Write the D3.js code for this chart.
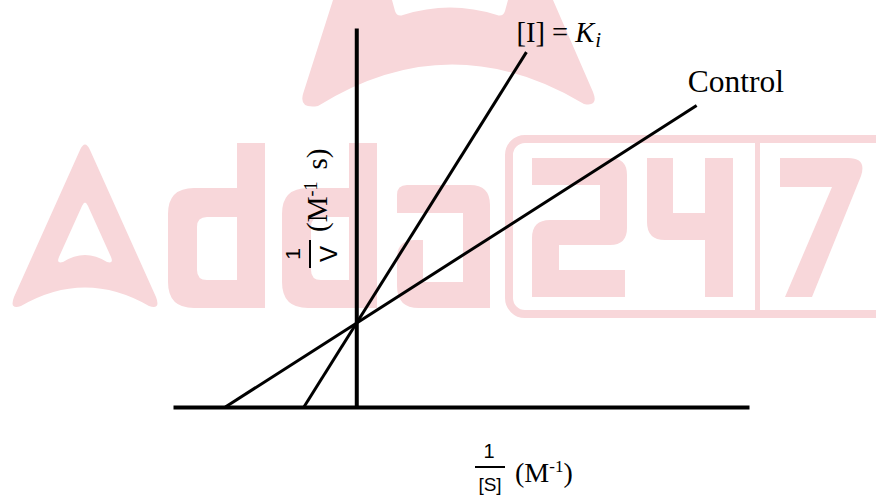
<!DOCTYPE html>
<html>
<head>
<meta charset="utf-8">
<script src="https://cdn.jsdelivr.net/npm/d3@7/dist/d3.min.js"></script>
<style>
  html, body { margin: 0; padding: 0; background: #fff; }
  svg { display: block; }
</style>
</head>
<body>
<svg id="chart" width="876" height="495"></svg>
<script>
// ---- data (Lineweaver–Burk plot, values in plot units) ----
const xExtent = [-1.4, 3.0];          // 1/[S] axis extent
const yExtent = [0, 4.4];             // 1/V axis extent
const seriesNames = ["Control", "[I] = Ki"];
const controlX = [-1.0, 2.6];
const controlY = [0.0, 3.5];
const inhibX = [-0.4, 1.3];
const inhibY = [0.0, 4.12];

const W = 876, H = 495;
const svg = d3.select("#chart");
svg.append("rect").attr("width", W).attr("height", H).attr("fill", "#fff");

// ---- watermark (decorative background logo) ----
const pink = "#f8d7da";
const wm = svg.append("g").attr("fill", pink).attr("fill-rule", "evenodd");
// big cropped "A" at top
wm.append("path").attr("d",
  "M333,0 L553,0 L593,92 Q599,107 584,104 Q450,24 318,106 Q299,109 303,94 Z " +
  "M392,0 L395,11 Q397,17 403,15 Q450,0 497,15 Q503,17 505,11 L508,0 Z");
// "A"
wm.append("path").attr("d",
  "M80,150 Q85,139 90,150 L156,297 Q161,310 149,306 Q85,269 21,306 Q9,310 14,297 Z " +
  "M82,206 Q85,199 88,206 L111,257 Q114,264 107,262 Q85,248 63,262 Q56,264 59,257 Z");
// "d" x2
function dPath(x0, x1) {
  const yTop = 143, yBowl = 188, yBot = 308, r = 26, r2 = 10, t = 28;
  return `M${x1 - t},${yTop} L${x1},${yTop} L${x1},${yBot} L${x0 + r},${yBot} Q${x0},${yBot} ${x0},${yBot - r} ` +
    `L${x0},${yBowl + r} Q${x0},${yBowl} ${x0 + r},${yBowl} L${x1 - t},${yBowl} Z ` +
    `M${x1 - t},${yBowl + 29} L${x0 + 29 + r2},${yBowl + 29} Q${x0 + 29},${yBowl + 29} ${x0 + 29},${yBowl + 29 + r2} ` +
    `L${x0 + 29},${yBot - t - r2} Q${x0 + 29},${yBot - t} ${x0 + 29 + r2},${yBot - t} L${x1 - t},${yBot - t} Z`;
}
wm.append("path").attr("d", dPath(168, 265));
wm.append("path").attr("d", dPath(282, 377));
// "a"
wm.append("path").attr("d",
  "M407,185 L470,185 Q490,185 490,205 L490,308 L419,308 Q397,308 397,286 L397,258 Q397,240 415,240 " +
  "L423,240 L423,282 L463,282 L463,213 L397,213 L397,195 Q397,185 407,185 Z");
// "247" box
wm.append("rect").attr("x", 509).attr("y", 139).attr("width", 390).attr("height", 175)
  .attr("rx", 16).attr("fill", "none").attr("stroke", pink).attr("stroke-width", 8);
wm.append("rect").attr("x", 755).attr("y", 139).attr("width", 5).attr("height", 175);
wm.append("path").attr("d",
  "M532,158 L610,158 Q627,158 627,175 L627,228 Q627,245 610,245 L559,245 L559,270 L625,270 L625,297 " +
  "L532,297 L532,238 Q532,220 550,220 L600,220 L600,185 L532,185 Z");
wm.append("path").attr("d",
  "M647,158 L673,158 L673,213 L705,213 L705,158 L733,158 L733,297 L705,297 L705,240 L665,240 Q647,240 647,222 Z");
wm.append("path").attr("d",
  "M780,158 L848,158 Q867,158 861,176 L812,297 L785,297 L832,187 L780,187 Z");

// ---- scales ----
const x = d3.scaleLinear().domain(xExtent).range([173, 749]);
const y = d3.scaleLinear().domain(yExtent).range([407, 28]);

// ---- axes (plain lines, no ticks) ----
const xAxis = svg.append("g").attr("transform", `translate(0,${y(0)})`)
  .call(d3.axisBottom(x).tickValues([]).tickSizeOuter(0));
const yAxis = svg.append("g").attr("transform", `translate(${x(0)},0)`)
  .call(d3.axisLeft(y).tickValues([]).tickSizeOuter(0));
[xAxis, yAxis].forEach(g => g.select(".domain").attr("stroke", "#000").attr("stroke-width", 4));

// ---- lines ----
const line = d3.line().x(d => x(d[0])).y(d => y(d[1]));
const series = [
  { name: seriesNames[0], pts: d3.zip(controlX, controlY) },
  { name: seriesNames[1], pts: d3.zip(inhibX, inhibY) }
];
svg.append("g").selectAll("path").data(series).join("path")
  .attr("d", d => line(d.pts))
  .attr("fill", "none").attr("stroke", "#000").attr("stroke-width", 3);

// ---- line labels ----
const serif = "'Liberation Serif', 'Times New Roman', serif";
const sans = "'Liberation Sans', Arial, sans-serif";
const ctrlEnd = series[0].pts[1];
svg.append("text").attr("x", x(ctrlEnd[0]) - 9).attr("y", y(ctrlEnd[1]) - 14)
  .attr("font-family", serif).attr("font-size", 31.5).attr("fill", "#000").text("Control");

const kiEnd = series[1].pts[1];
const kiT = svg.append("text").attr("x", x(kiEnd[0]) - 10).attr("y", y(kiEnd[1]) - 10)
  .attr("font-family", serif).attr("font-size", 28.5).attr("fill", "#000");
kiT.append("tspan").text("[I] = ");
kiT.append("tspan").attr("font-style", "italic").text("K");
kiT.append("tspan").attr("font-style", "italic").attr("font-size", 21).attr("dx", 1).attr("dy", 5).text("i");

// ---- x-axis title: 1/[S] (M^-1) ----
const xl = svg.append("g").attr("transform", "translate(490,467)");
xl.append("line").attr("x1", -15).attr("x2", 15).attr("stroke", "#000").attr("stroke-width", 2);
xl.append("text").attr("x", -1).attr("y", -9).attr("text-anchor", "middle")
  .attr("font-family", sans).attr("font-size", 20).text("1");
xl.append("text").attr("x", 0).attr("y", 24).attr("text-anchor", "middle")
  .attr("font-family", sans).attr("font-size", 19).text("[S]");
const xu = xl.append("text").attr("x", 25).attr("y", 15)
  .attr("font-family", serif).attr("font-size", 28);
xu.append("tspan").text("(M");
xu.append("tspan").attr("font-size", 17).attr("dy", -10).text("-1");
xu.append("tspan").attr("dy", 10).text(")");

// ---- y-axis title: 1/V (M^-1 s), rotated ----
const yl = svg.append("g").attr("transform", "translate(310,254) rotate(-90)");
yl.append("line").attr("x1", -14).attr("x2", 14).attr("stroke", "#000").attr("stroke-width", 2);
yl.append("text").attr("x", 0).attr("y", -10).attr("text-anchor", "middle")
  .attr("font-family", sans).attr("font-size", 21).text("1");
yl.append("text").attr("x", 0).attr("y", 27).attr("text-anchor", "middle")
  .attr("font-family", sans).attr("font-size", 24).text("V");
const yu = yl.append("text").attr("x", 22).attr("y", 17)
  .attr("font-family", serif).attr("font-size", 29);
yu.append("tspan").text("(M");
yu.append("tspan").attr("font-size", 18).attr("dy", -10).text("-1");
yu.append("tspan").attr("dy", 10).attr("dx", 12).text("s)");
</script>
</body>
</html>
